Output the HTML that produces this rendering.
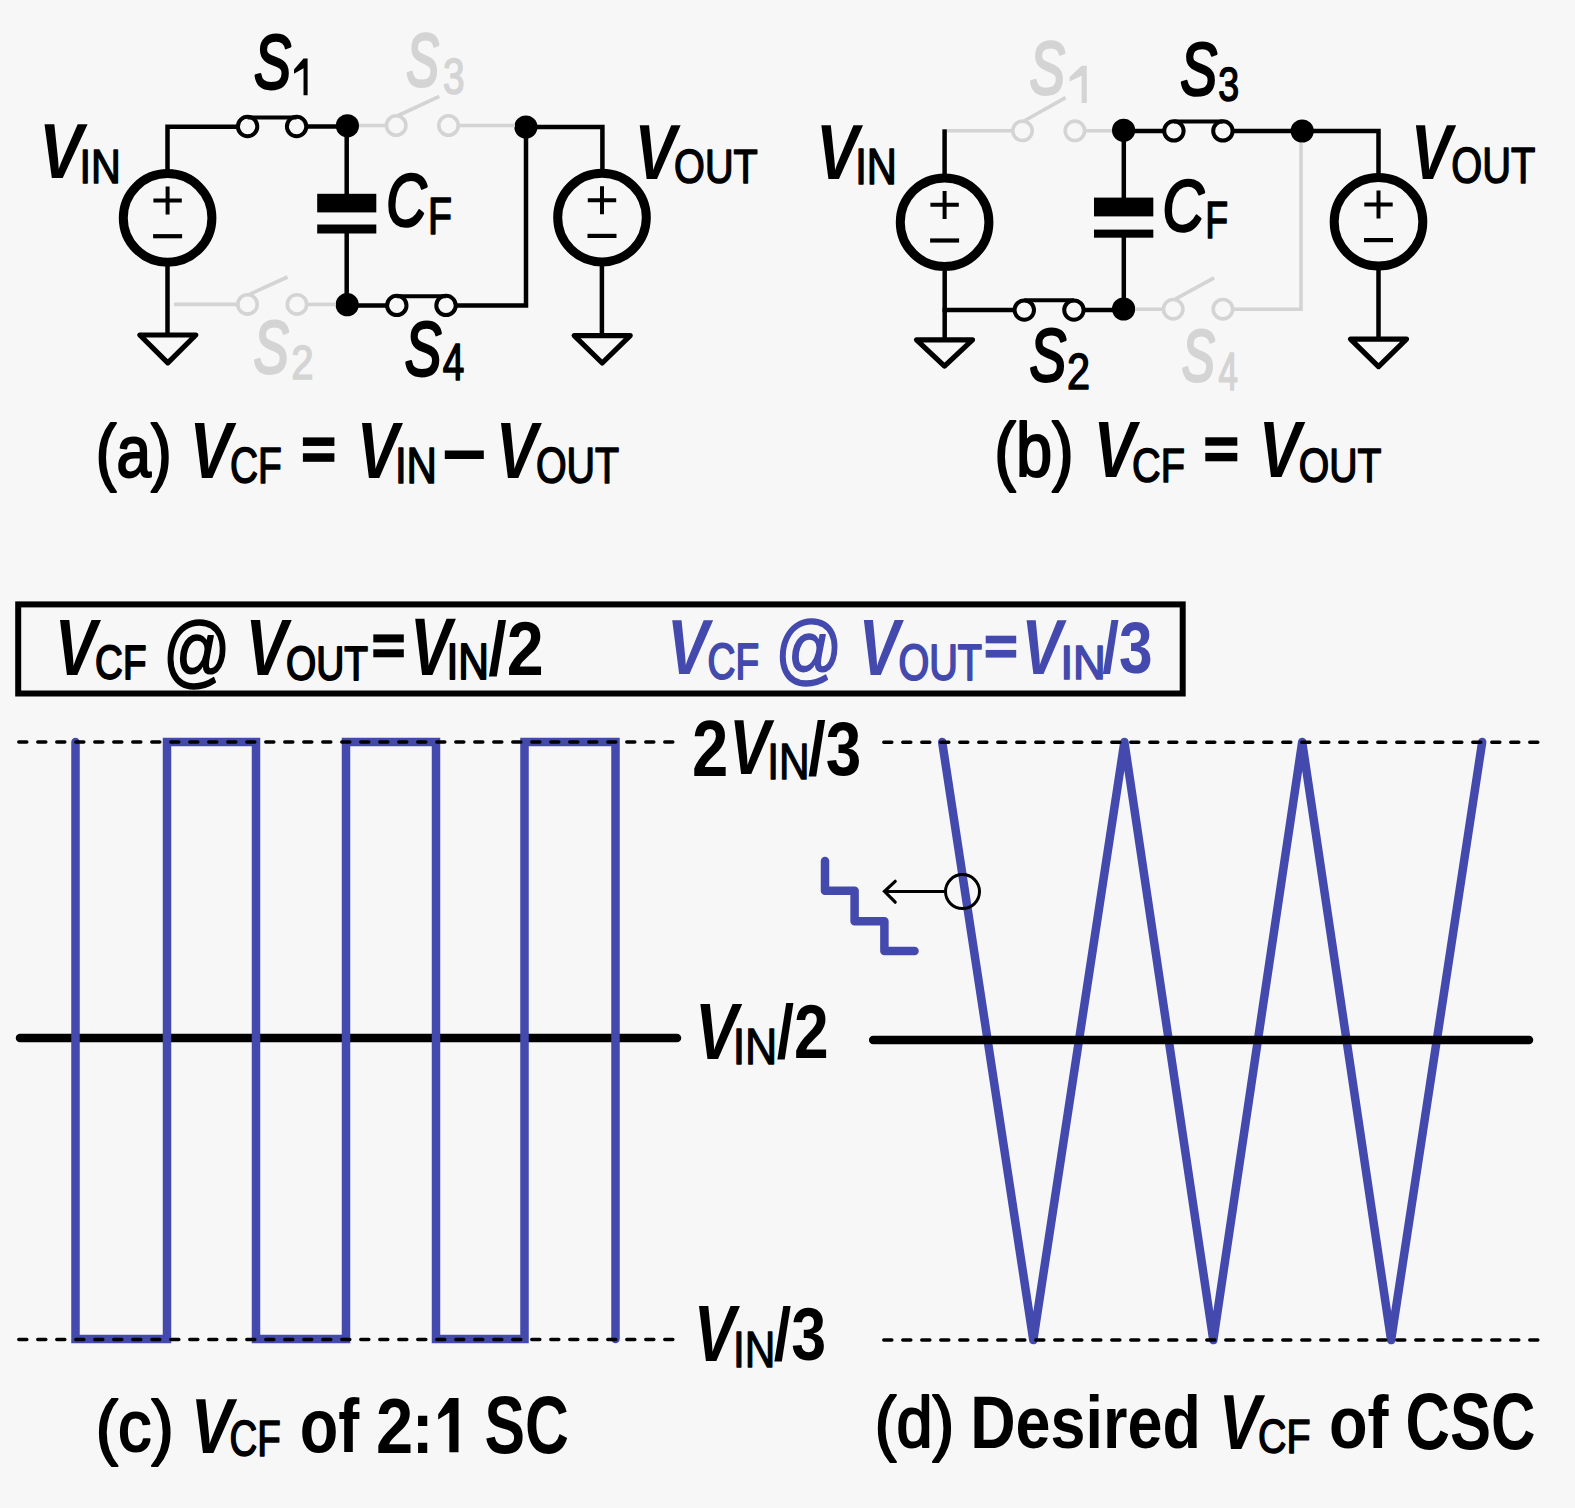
<!DOCTYPE html>
<html><head><meta charset="utf-8"><style>
html,body{margin:0;padding:0;background:#f7f7f7;}
svg{display:block;}
text{font-family:"Liberation Sans",sans-serif;font-size:100px;font-kerning:none;}
</style></head><body>
<svg width="1575" height="1508" viewBox="0 0 1575 1508">
<rect width="1575" height="1508" fill="#f7f7f7"/>
<circle cx="167.6" cy="217.9" r="44.3" fill="none" stroke="#000000" stroke-width="9"/>
<path d="M153.4,200.5 H181.79999999999998 M167.6,186.6 V214.6" fill="none" stroke="#000000" stroke-width="4" />
<path d="M153.1,236.20000000000002 H182.1" fill="none" stroke="#000000" stroke-width="4.2" />
<circle cx="602" cy="217.6" r="44.3" fill="none" stroke="#000000" stroke-width="9"/>
<path d="M587.8,200.2 H616.2 M602,186.29999999999998 V214.29999999999998" fill="none" stroke="#000000" stroke-width="4" />
<path d="M587.5,235.9 H616.5" fill="none" stroke="#000000" stroke-width="4.2" />
<path d="M139.8,335.0 H195.8 L167.8,362.79999999999995 Z" fill="none" stroke="#000000" stroke-width="5.2" stroke-linejoin="round"/>
<path d="M574.2,335.6 H630.2 L602.2,363.0 Z" fill="none" stroke="#000000" stroke-width="5.2" stroke-linejoin="round"/>
<path d="M167.5,266 V333" fill="none" stroke="#000000" stroke-width="4.5" />
<path d="M601.9,266 V334" fill="none" stroke="#000000" stroke-width="4.5" />
<path d="M167.5,173 V126.7 H237.5" fill="none" stroke="#000000" stroke-width="4.5" />
<circle cx="247.6" cy="126.5" r="9.7" fill="none" stroke="#000000" stroke-width="4"/>
<circle cx="296.6" cy="126.5" r="9.7" fill="none" stroke="#000000" stroke-width="4"/>
<path d="M247.6,117.6 H296.6" fill="none" stroke="#000000" stroke-width="4" />
<path d="M306.5,126.5 H347" fill="none" stroke="#000000" stroke-width="4.5" />
<circle cx="347.4" cy="125.8" r="11.6" fill="#000000"/>
<path d="M346.7,126 V194" fill="none" stroke="#000000" stroke-width="4.5" />
<rect x="317.2" y="193.8" width="59.10" height="18.60" fill="#000000"/>
<rect x="317.2" y="224.5" width="59.10" height="9.00" fill="#000000"/>
<path d="M346.7,233 V305" fill="none" stroke="#000000" stroke-width="4.5" />
<circle cx="347.2" cy="304.7" r="11.6" fill="#000000"/>
<path d="M347,305.4 H386.8" fill="none" stroke="#000000" stroke-width="4.5" />
<circle cx="396.8" cy="305.4" r="9.7" fill="none" stroke="#000000" stroke-width="4"/>
<circle cx="446" cy="305.4" r="9.7" fill="none" stroke="#000000" stroke-width="4"/>
<path d="M396.8,296.3 H446" fill="none" stroke="#000000" stroke-width="4" />
<path d="M456,305.4 H526 V127" fill="none" stroke="#000000" stroke-width="4.5" />
<circle cx="525.9" cy="127" r="11.6" fill="#000000"/>
<path d="M526,126.9 H602.4 V170" fill="none" stroke="#000000" stroke-width="4.5" />
<path d="M174,304.4 H237.5" fill="none" stroke="#d4d4d4" stroke-width="3.6" />
<circle cx="247.5" cy="304.4" r="9.7" fill="none" stroke="#d4d4d4" stroke-width="3.6"/>
<circle cx="297" cy="304.4" r="9.7" fill="none" stroke="#d4d4d4" stroke-width="3.6"/>
<path d="M249.5,294.4 L287.5,277" fill="none" stroke="#d4d4d4" stroke-width="3.6" />
<path d="M307,304.4 H336" fill="none" stroke="#d4d4d4" stroke-width="3.6" />
<path d="M359,125.5 H386.5" fill="none" stroke="#d4d4d4" stroke-width="3.6" />
<circle cx="396.2" cy="125.5" r="9.7" fill="none" stroke="#d4d4d4" stroke-width="3.6"/>
<circle cx="448.5" cy="125.5" r="9.7" fill="none" stroke="#d4d4d4" stroke-width="3.6"/>
<path d="M398.2,115.5 L439.3,96.4" fill="none" stroke="#d4d4d4" stroke-width="3.6" />
<path d="M458.5,125.5 H515" fill="none" stroke="#d4d4d4" stroke-width="3.6" />
<text transform="matrix(0.6597 0 0 0.7805 39.09 178.30)" font-weight="bold" font-style="italic" fill="#000000">V</text>
<text transform="matrix(0.4127 0 0 0.4869 79.59 183.30)" font-weight="normal" font-style="normal" fill="#000000" stroke="#000000" stroke-width="3.112" stroke-linejoin="round">IN</text>
<text transform="matrix(0.5558 0 0 0.7528 253.93 88.26)" font-weight="normal" font-style="italic" fill="#000000" stroke="#000000" stroke-width="3.668" stroke-linejoin="round">S</text>
<polygon points="303.52,58.40 307.60,58.40 307.60,95.20 303.52,95.20 303.52,68.34 294.00,73.86 294.00,69.44" fill="#000000"/>
<text transform="matrix(0.4905 0 0 0.7345 406.31 86.48)" font-weight="normal" font-style="italic" fill="#d4d4d4" stroke="#d4d4d4" stroke-width="3.919" stroke-linejoin="round">S</text>
<text transform="matrix(0.3881 0 0 0.5042 442.92 93.81)" font-weight="normal" font-style="normal" fill="#d4d4d4" stroke="#d4d4d4" stroke-width="3.138" stroke-linejoin="round">3</text>
<text transform="matrix(0.5562 0 0 0.7429 386.33 226.37)" font-weight="normal" font-style="italic" fill="#000000" stroke="#000000" stroke-width="3.695" stroke-linejoin="round">C</text>
<text transform="matrix(0.3928 0 0 0.5102 428.08 234.30)" font-weight="normal" font-style="normal" fill="#000000" stroke="#000000" stroke-width="3.101" stroke-linejoin="round">F</text>
<text transform="matrix(0.6260 0 0 0.7820 634.57 178.60)" font-weight="bold" font-style="italic" fill="#000000">V</text>
<text transform="matrix(0.3965 0 0 0.4887 674.12 183.12)" font-weight="normal" font-style="normal" fill="#000000" stroke="#000000" stroke-width="3.163" stroke-linejoin="round">OUT</text>
<text transform="matrix(0.5287 0 0 0.7387 253.50 373.08)" font-weight="normal" font-style="italic" fill="#d4d4d4" stroke="#d4d4d4" stroke-width="3.787" stroke-linejoin="round">S</text>
<text transform="matrix(0.4017 0 0 0.4898 291.18 379.30)" font-weight="normal" font-style="normal" fill="#d4d4d4" stroke="#d4d4d4" stroke-width="3.141" stroke-linejoin="round">2</text>
<text transform="matrix(0.5510 0 0 0.7542 404.84 374.66)" font-weight="normal" font-style="italic" fill="#000000" stroke="#000000" stroke-width="3.677" stroke-linejoin="round">S</text>
<text transform="matrix(0.3870 0 0 0.5175 442.81 380.10)" font-weight="normal" font-style="normal" fill="#000000" stroke="#000000" stroke-width="3.096" stroke-linejoin="round">4</text>
<text transform="matrix(0.6210 0 0 0.7320 95.85 477.14)" font-weight="normal" font-style="normal" fill="#000000" stroke="#000000" stroke-width="2.956" stroke-linejoin="round">(a)</text>
<text transform="matrix(0.6367 0 0 0.7907 189.38 478.10)" font-weight="bold" font-style="italic" fill="#000000">V</text>
<text transform="matrix(0.3896 0 0 0.5042 229.92 482.51)" font-weight="normal" font-style="normal" fill="#000000" stroke="#000000" stroke-width="3.132" stroke-linejoin="round">CF</text>
<rect x="302.9" y="437.4" width="31.50" height="8.54" fill="#000000"/>
<rect x="302.9" y="453.26" width="31.50" height="8.54" fill="#000000"/>
<text transform="matrix(0.6276 0 0 0.7893 356.66 478.10)" font-weight="bold" font-style="italic" fill="#000000">V</text>
<text transform="matrix(0.4212 0 0 0.5058 394.91 483.10)" font-weight="normal" font-style="normal" fill="#000000" stroke="#000000" stroke-width="3.020" stroke-linejoin="round">IN</text>
<rect x="444.8" y="450.5" width="39.00" height="8.50" fill="#000000"/>
<text transform="matrix(0.6260 0 0 0.7893 495.77 478.10)" font-weight="bold" font-style="italic" fill="#000000">V</text>
<text transform="matrix(0.3945 0 0 0.5042 535.93 482.61)" font-weight="normal" font-style="normal" fill="#000000" stroke="#000000" stroke-width="3.115" stroke-linejoin="round">OUT</text>
<circle cx="944.6" cy="222.2" r="44.3" fill="none" stroke="#000000" stroke-width="9"/>
<path d="M930.4,204.79999999999998 H958.8000000000001 M944.6,190.89999999999998 V218.89999999999998" fill="none" stroke="#000000" stroke-width="4" />
<path d="M930.1,240.5 H959.1" fill="none" stroke="#000000" stroke-width="4.2" />
<circle cx="1378.5" cy="221.8" r="44.3" fill="none" stroke="#000000" stroke-width="9"/>
<path d="M1364.3,204.4 H1392.7 M1378.5,190.5 V218.5" fill="none" stroke="#000000" stroke-width="4" />
<path d="M1364.0,240.10000000000002 H1393.0" fill="none" stroke="#000000" stroke-width="4.2" />
<path d="M916.5,339.90000000000003 H972.5 L944.5,366.09999999999997 Z" fill="none" stroke="#000000" stroke-width="5.2" stroke-linejoin="round"/>
<path d="M1350.5,339.1 H1406.5 L1378.5,366.59999999999997 Z" fill="none" stroke="#000000" stroke-width="5.2" stroke-linejoin="round"/>
<path d="M944.7,271 V338" fill="none" stroke="#000000" stroke-width="4.5" />
<path d="M1378.5,270 V337" fill="none" stroke="#000000" stroke-width="4.5" />
<path d="M944.6,174 V129.3" fill="none" stroke="#000000" stroke-width="4.5" />
<path d="M947,130.8 H1012.5" fill="none" stroke="#d4d4d4" stroke-width="3.6" />
<circle cx="1022.5" cy="130.8" r="9.7" fill="none" stroke="#d4d4d4" stroke-width="3.6"/>
<circle cx="1074.9" cy="130.8" r="9.7" fill="none" stroke="#d4d4d4" stroke-width="3.6"/>
<path d="M1024.5,120.80000000000001 L1065.6,97.6" fill="none" stroke="#d4d4d4" stroke-width="3.6" />
<path d="M1084.9,130.8 H1112" fill="none" stroke="#d4d4d4" stroke-width="3.6" />
<circle cx="1123.6" cy="130.3" r="11.6" fill="#000000"/>
<path d="M1123.6,130.9 H1164" fill="none" stroke="#000000" stroke-width="4.5" />
<circle cx="1173.9" cy="130.9" r="9.7" fill="none" stroke="#000000" stroke-width="4"/>
<circle cx="1222.9" cy="130.9" r="9.7" fill="none" stroke="#000000" stroke-width="4"/>
<path d="M1173.9,121.6 H1222.9" fill="none" stroke="#000000" stroke-width="4" />
<path d="M1232.8,130.9 H1378.5 V175" fill="none" stroke="#000000" stroke-width="4.5" />
<circle cx="1302.2" cy="131" r="11.6" fill="#000000"/>
<path d="M1123.8,131 V198" fill="none" stroke="#000000" stroke-width="4.5" />
<rect x="1094" y="197.6" width="59.30" height="18.80" fill="#000000"/>
<rect x="1094" y="229.6" width="59.30" height="8.10" fill="#000000"/>
<path d="M1123.8,237 V309" fill="none" stroke="#000000" stroke-width="4.5" />
<circle cx="1123.6" cy="309" r="11.6" fill="#000000"/>
<path d="M1123.6,310.1 H1083.8" fill="none" stroke="#000000" stroke-width="4.5" />
<circle cx="1024.3" cy="310.1" r="9.7" fill="none" stroke="#000000" stroke-width="4"/>
<circle cx="1073.9" cy="310.1" r="9.7" fill="none" stroke="#000000" stroke-width="4"/>
<path d="M1024.3,300.3 H1073.9" fill="none" stroke="#000000" stroke-width="4" />
<path d="M1014.4,310.1 H942.5" fill="none" stroke="#000000" stroke-width="4.5" />
<path d="M1135,309.2 H1163.2" fill="none" stroke="#d4d4d4" stroke-width="3.6" />
<circle cx="1173.2" cy="309.2" r="9.7" fill="none" stroke="#d4d4d4" stroke-width="3.6"/>
<circle cx="1222.9" cy="309.2" r="9.7" fill="none" stroke="#d4d4d4" stroke-width="3.6"/>
<path d="M1175.2,299.2 L1214.1,277.8" fill="none" stroke="#d4d4d4" stroke-width="3.6" />
<path d="M1232.8,309.2 H1301 V143" fill="none" stroke="#d4d4d4" stroke-width="3.6" />
<text transform="matrix(0.6383 0 0 0.7805 815.97 178.50)" font-weight="bold" font-style="italic" fill="#000000">V</text>
<text transform="matrix(0.4164 0 0 0.5000 855.26 183.80)" font-weight="normal" font-style="normal" fill="#000000" stroke="#000000" stroke-width="3.055" stroke-linejoin="round">IN</text>
<text transform="matrix(0.5319 0 0 0.7429 1029.49 94.37)" font-weight="normal" font-style="italic" fill="#d4d4d4" stroke="#d4d4d4" stroke-width="3.765" stroke-linejoin="round">S</text>
<polygon points="1081.64,65.80 1086.80,65.80 1086.80,103.00 1081.64,103.00 1081.64,75.84 1069.60,81.42 1069.60,76.96" fill="#d4d4d4"/>
<text transform="matrix(0.5526 0 0 0.7330 1180.13 95.08)" font-weight="normal" font-style="italic" fill="#000000" stroke="#000000" stroke-width="3.734" stroke-linejoin="round">S</text>
<text transform="matrix(0.3754 0 0 0.4760 1218.27 101.14)" font-weight="normal" font-style="normal" fill="#000000" stroke="#000000" stroke-width="3.289" stroke-linejoin="round">3</text>
<text transform="matrix(0.5726 0 0 0.7189 1162.54 231.40)" font-weight="normal" font-style="italic" fill="#000000" stroke="#000000" stroke-width="3.717" stroke-linejoin="round">C</text>
<text transform="matrix(0.3744 0 0 0.5204 1205.23 238.40)" font-weight="normal" font-style="normal" fill="#000000" stroke="#000000" stroke-width="3.129" stroke-linejoin="round">F</text>
<text transform="matrix(0.6168 0 0 0.7820 1410.85 178.80)" font-weight="bold" font-style="italic" fill="#000000">V</text>
<text transform="matrix(0.3984 0 0 0.4972 1451.31 183.41)" font-weight="normal" font-style="normal" fill="#000000" stroke="#000000" stroke-width="3.126" stroke-linejoin="round">OUT</text>
<text transform="matrix(0.5510 0 0 0.7458 1029.54 381.47)" font-weight="normal" font-style="italic" fill="#000000" stroke="#000000" stroke-width="3.701" stroke-linejoin="round">S</text>
<text transform="matrix(0.4149 0 0 0.4912 1066.91 389.00)" font-weight="normal" font-style="normal" fill="#000000" stroke="#000000" stroke-width="3.090" stroke-linejoin="round">2</text>
<text transform="matrix(0.4969 0 0 0.7288 1181.79 381.09)" font-weight="normal" font-style="italic" fill="#d4d4d4" stroke="#d4d4d4" stroke-width="3.916" stroke-linejoin="round">S</text>
<text transform="matrix(0.3493 0 0 0.5320 1218.40 389.60)" font-weight="normal" font-style="normal" fill="#d4d4d4" stroke="#d4d4d4" stroke-width="3.177" stroke-linejoin="round">4</text>
<text transform="matrix(0.6502 0 0 0.7653 994.27 476.46)" font-weight="normal" font-style="normal" fill="#000000" stroke="#000000" stroke-width="2.826" stroke-linejoin="round">(b)</text>
<text transform="matrix(0.6322 0 0 0.7936 1093.42 477.30)" font-weight="bold" font-style="italic" fill="#000000">V</text>
<text transform="matrix(0.3969 0 0 0.4887 1131.98 481.52)" font-weight="normal" font-style="normal" fill="#000000" stroke="#000000" stroke-width="3.162" stroke-linejoin="round">CF</text>
<rect x="1205.3" y="437.3" width="32.00" height="8.40" fill="#000000"/>
<rect x="1205.3" y="452.90000000000003" width="32.00" height="8.40" fill="#000000"/>
<text transform="matrix(0.6322 0 0 0.7936 1258.72 477.30)" font-weight="bold" font-style="italic" fill="#000000">V</text>
<text transform="matrix(0.3916 0 0 0.4887 1298.85 481.52)" font-weight="normal" font-style="normal" fill="#000000" stroke="#000000" stroke-width="3.181" stroke-linejoin="round">OUT</text>
<rect x="18.2" y="604.4" width="1164.5" height="89.1" fill="none" stroke="#000000" stroke-width="6"/>
<text transform="matrix(0.6276 0 0 0.8038 54.76 674.80)" font-weight="bold" font-style="italic" fill="#000000">V</text>
<text transform="matrix(0.3848 0 0 0.4873 95.10 679.17)" font-weight="normal" font-style="normal" fill="#000000" stroke="#000000" stroke-width="3.899" stroke-linejoin="round">CF</text>
<text transform="matrix(0.6658 0 0 0.7997 163.12 678.20)" font-weight="normal" font-style="normal" fill="#000000" stroke="#000000" stroke-width="2.047" stroke-linejoin="round">@</text>
<text transform="matrix(0.6276 0 0 0.8038 245.46 674.80)" font-weight="bold" font-style="italic" fill="#000000">V</text>
<text transform="matrix(0.3886 0 0 0.4873 285.91 679.67)" font-weight="normal" font-style="normal" fill="#000000" stroke="#000000" stroke-width="3.882" stroke-linejoin="round">OUT</text>
<rect x="373.3" y="634.4" width="30.50" height="8.01" fill="#000000"/>
<rect x="373.3" y="649.285" width="30.50" height="8.01" fill="#000000"/>
<text transform="matrix(0.6230 0 0 0.8111 410.00 675.00)" font-weight="bold" font-style="italic" fill="#000000">V</text>
<text transform="matrix(0.4249 0 0 0.4927 446.43 679.35)" font-weight="normal" font-style="normal" fill="#000000" stroke="#000000" stroke-width="3.705" stroke-linejoin="round">IN</text>
<text transform="matrix(0.6644 0 0 0.7668 488.25 674.76)" font-weight="bold" font-style="normal" fill="#000000">/2</text>
<text transform="matrix(0.6260 0 0 0.7762 666.97 673.60)" font-weight="bold" font-style="italic" fill="#4349ad">V</text>
<text transform="matrix(0.3864 0 0 0.4915 707.59 679.37)" font-weight="normal" font-style="normal" fill="#4349ad" stroke="#4349ad" stroke-width="3.873" stroke-linejoin="round">CF</text>
<text transform="matrix(0.6623 0 0 0.7765 775.34 676.32)" font-weight="normal" font-style="normal" fill="#4349ad" stroke="#4349ad" stroke-width="2.085" stroke-linejoin="round">@</text>
<text transform="matrix(0.6123 0 0 0.7965 858.69 674.80)" font-weight="bold" font-style="italic" fill="#4349ad">V</text>
<text transform="matrix(0.3955 0 0 0.4943 898.48 679.67)" font-weight="normal" font-style="normal" fill="#4349ad" stroke="#4349ad" stroke-width="3.821" stroke-linejoin="round">OUT</text>
<rect x="985.7" y="635.7" width="30.50" height="7.66" fill="#4349ad"/>
<rect x="985.7" y="649.9350000000001" width="30.50" height="7.66" fill="#4349ad"/>
<text transform="matrix(0.6123 0 0 0.7747 1021.59 673.80)" font-weight="bold" font-style="italic" fill="#4349ad">V</text>
<text transform="matrix(0.4527 0 0 0.4738 1060.47 678.65)" font-weight="normal" font-style="normal" fill="#4349ad" stroke="#4349ad" stroke-width="3.670" stroke-linejoin="round">IN</text>
<text transform="matrix(0.6040 0 0 0.7252 1102.31 672.55)" font-weight="bold" font-style="normal" fill="#4349ad">/3</text>
<path d="M20,1038 H677" fill="none" stroke="#000000" stroke-width="8.5" stroke-linecap="round"/>
<path d="M75.5,742 V1339 H167 V742 H256 V1339 H346 V742 H436 V1339 H524.5 V742 H615.5 V1339" fill="none" stroke="#4349ad" stroke-width="8.5" stroke-linejoin="miter" stroke-linecap="round"/>
<path d="M942.2,742 L1033.3,1340 L1124.4,742 L1213.3,1340 L1302.2,742 L1391.1,1340 L1482.2,742" fill="none" stroke="#4349ad" stroke-width="8.5" stroke-linejoin="round" stroke-linecap="round"/>
<path d="M873.2,1040 H1529" fill="none" stroke="#000000" stroke-width="8.5" stroke-linecap="round"/>
<path d="M18.8,742 H676" fill="none" stroke="#000000" stroke-width="3.5" stroke-dasharray="8 11" stroke-linecap="round"/>
<path d="M18.8,1339.5 H679" fill="none" stroke="#000000" stroke-width="3.5" stroke-dasharray="8 11" stroke-linecap="round"/>
<path d="M883.8,742.2 H1540" fill="none" stroke="#000000" stroke-width="3.5" stroke-dasharray="8 11" stroke-linecap="round"/>
<path d="M883.8,1340 H1540" fill="none" stroke="#000000" stroke-width="3.5" stroke-dasharray="8 11" stroke-linecap="round"/>
<path d="M825,861 V890.8 H854.6 V921.3 H884.4 V951.1 H914.5" fill="none" stroke="#4349ad" stroke-width="8.5" stroke-linejoin="round" stroke-linecap="round"/>
<circle cx="962.5" cy="891.6" r="17" fill="none" stroke="#000000" stroke-width="3"/>
<path d="M945.5,891.4 H885" fill="none" stroke="#000000" stroke-width="3" />
<path d="M895.2,881.3 L884.5,891.4 L895.2,902.2" fill="none" stroke="#000000" stroke-width="3.2" stroke-linejoin="miter" stroke-linecap="round"/>
<text transform="matrix(0.6522 0 0 0.7906 692.04 776.20)" font-weight="bold" font-style="normal" fill="#000000">2</text>
<text transform="matrix(0.6123 0 0 0.7747 729.19 774.30)" font-weight="bold" font-style="italic" fill="#000000">V</text>
<text transform="matrix(0.4236 0 0 0.4942 767.19 779.40)" font-weight="normal" font-style="normal" fill="#000000" stroke="#000000" stroke-width="2.615" stroke-linejoin="round">IN</text>
<text transform="matrix(0.6395 0 0 0.7547 807.98 774.69)" font-weight="bold" font-style="normal" fill="#000000">/3</text>
<text transform="matrix(0.6413 0 0 0.7980 695.05 1058.60)" font-weight="bold" font-style="italic" fill="#000000">V</text>
<text transform="matrix(0.4466 0 0 0.5029 732.68 1064.10)" font-weight="normal" font-style="normal" fill="#000000" stroke="#000000" stroke-width="2.528" stroke-linejoin="round">IN</text>
<text transform="matrix(0.6223 0 0 0.7561 776.69 1057.79)" font-weight="bold" font-style="normal" fill="#000000">/2</text>
<text transform="matrix(0.6276 0 0 0.8023 693.76 1361.40)" font-weight="bold" font-style="italic" fill="#000000">V</text>
<text transform="matrix(0.4236 0 0 0.5073 732.89 1366.50)" font-weight="normal" font-style="normal" fill="#000000" stroke="#000000" stroke-width="2.578" stroke-linejoin="round">IN</text>
<text transform="matrix(0.6281 0 0 0.7413 773.69 1359.92)" font-weight="bold" font-style="normal" fill="#000000">/3</text>
<text transform="matrix(0.6670 0 0 0.7277 95.86 1450.73)" font-weight="normal" font-style="normal" fill="#000000" stroke="#000000" stroke-width="2.868" stroke-linejoin="round">(c)</text>
<text transform="matrix(0.6306 0 0 0.7834 190.63 1452.50)" font-weight="bold" font-style="italic" fill="#000000">V</text>
<text transform="matrix(0.3848 0 0 0.4958 229.55 1456.12)" font-weight="normal" font-style="normal" fill="#000000" stroke="#000000" stroke-width="3.180" stroke-linejoin="round">CF</text>
<text transform="matrix(0.6308 0 0 0.7653 299.74 1452.45)" font-weight="bold" font-style="normal" fill="#000000">of</text>
<text transform="matrix(0.6688 0 0 0.7820 376.08 1453.20)" font-weight="bold" font-style="normal" fill="#000000">2</text>
<text transform="matrix(0.6542 0 0 0.7467 411.71 1453.10)" font-weight="bold" font-style="normal" fill="#000000">:</text>
<polygon points="449.37,1397.90 458.50,1397.90 458.50,1452.20 449.37,1452.20 449.37,1412.56 438.20,1419.62 438.20,1414.19" fill="#000000"/>
<text transform="matrix(0.6076 0 0 0.8065 484.55 1453.31)" font-weight="bold" font-style="normal" fill="#000000">SC</text>
<text transform="matrix(0.6493 0 0 0.7299 874.77 1447.19)" font-weight="normal" font-style="normal" fill="#000000" stroke="#000000" stroke-width="2.900" stroke-linejoin="round">(d)</text>
<text transform="matrix(0.6287 0 0 0.7421 970.19 1448.18)" font-weight="bold" font-style="normal" fill="#000000">Desired</text>
<text transform="matrix(0.6291 0 0 0.7805 1218.75 1448.60)" font-weight="bold" font-style="italic" fill="#000000">V</text>
<text transform="matrix(0.3937 0 0 0.4802 1258.10 1453.13)" font-weight="normal" font-style="normal" fill="#000000" stroke="#000000" stroke-width="3.204" stroke-linejoin="round">CF</text>
<text transform="matrix(0.6308 0 0 0.7476 1328.94 1447.87)" font-weight="bold" font-style="normal" fill="#000000">of</text>
<text transform="matrix(0.6153 0 0 0.7910 1405.48 1448.93)" font-weight="bold" font-style="normal" fill="#000000">CSC</text>
</svg></body></html>
